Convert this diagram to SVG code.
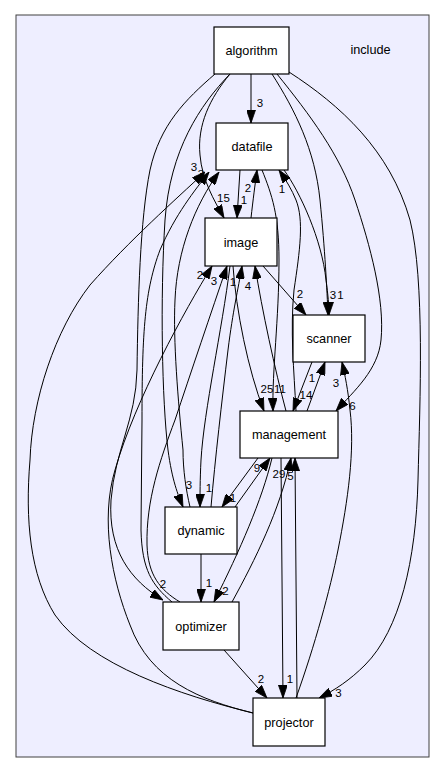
<svg xmlns="http://www.w3.org/2000/svg" width="445" height="773" viewBox="0 0 445 773">
<style>
.cl{fill:#eeeeff;stroke:#404040;stroke-width:1}
.nd rect{fill:#ffffff;stroke:#000000;stroke-width:1.2}
.nt{font-family:"Liberation Sans",Arial,Helvetica,sans-serif;font-size:12.7px;fill:#000;text-anchor:middle}
.e path{fill:none;stroke:#000;stroke-width:1;marker-end:url(#ah)}
.lb{font-family:"Liberation Sans",Arial,Helvetica,sans-serif;font-size:11.5px;fill:#000;text-anchor:middle}
</style>
<defs>
<marker id="ah" viewBox="0 0 13 9" refX="13" refY="4.5" markerWidth="13" markerHeight="9" markerUnits="userSpaceOnUse" orient="auto">
<path d="M0,0 L13,4.5 L0,9 z" fill="#000" stroke="#000" stroke-width="0.8"/>
</marker>
</defs>
<rect width="445" height="773" fill="#ffffff"/>
<g id="cluster_include">
<rect class="cl" x="16" y="15" width="413" height="742"/>
<text class="nt" x="370.5" y="54">include</text>
</g>
<g id="connectors" class="e">
<path d="M251,74 L251,123"/>
<path d="M230,74 C210,98 197,125 200,155 C202,180 214,200 224,218"/>
<path d="M240,170 L237,218"/>
<path d="M251,218 C253,200 255,185 257,170"/>
<path d="M296,411 C294,370 290,330 294,290 C300,250 304,220 296,200 C292,190 286,180 279,170"/>
<path d="M284,170 C300,192 322,240 326,280 C328,295 329,305 329,315"/>
<path d="M272,74 C295,110 315,150 320,200 C325,250 327,290 328,315"/>
<path d="M277,74 C310,115 340,155 355,200 C370,245 385,300 381,340 C378,370 355,390 336,411"/>
<path d="M289,72 C340,105 390,150 410,220 C425,280 420,400 418,480 C416,560 400,630 365,665 C350,680 335,690 319,698"/>
<path d="M263,266 L306,315"/>
<path d="M233,266 C236,310 248,370 264,411"/>
<path d="M262,170 C272,195 279,215 279,260 C279,320 272,370 273,411"/>
<path d="M286,411 C275,370 262,310 255,266"/>
<path d="M312,362 L293,411"/>
<path d="M307,411 L325,362"/>
<path d="M296,698 C315,645 330,590 338,550 C348,500 355,450 350,410 C348,390 345,375 342,362"/>
<path d="M258,458 L222,507"/>
<path d="M235,507 L270,458"/>
<path d="M272,458 C262,500 240,550 214,602"/>
<path d="M232,602 C255,560 280,510 291,458"/>
<path d="M297,698 L295,458"/>
<path d="M281,458 L283,698"/>
<path d="M201,554 L201,602"/>
<path d="M224,650 L267,698"/>
<path d="M230,74 C200,105 170,150 165,220 C160,300 162,400 168,450 C172,480 178,495 183,507"/>
<path d="M230,266 C222,330 204,410 201,460 C200,480 200,495 200,507"/>
<path d="M211,507 C215,460 222,400 228,350 C233,310 238,290 242,266"/>
<path d="M215,74 C185,100 160,125 150,170 C140,220 138,300 137,370 C136,420 115,450 111,500 C108,550 130,580 163,600"/>
<path d="M172,602 C152,585 142,570 141,530 L142,420 C142,330 145,290 160,250 C175,215 195,190 209,172"/>
<path d="M253,713 C180,695 90,665 55,615 C30,575 25,520 30,460 C32,400 55,330 90,285 C130,240 175,200 205,172"/>
<path d="M190,507 C186,490 183,470 183,450 C178,400 173,340 175,300 C177,250 195,205 219,172"/>
<path d="M180,602 C160,590 148,575 147,545 C146,500 160,460 175,420 C190,375 212,310 227,266"/>
<path d="M253,713 C200,700 150,680 130,625 C112,580 100,520 115,470 C135,400 185,310 212,266"/>
</g>
<g id="edge_labels">
<text class="lb" x="260" y="107">3</text>
<text class="lb" x="223.5" y="202">15</text>
<text class="lb" x="244" y="204">1</text>
<text class="lb" x="248" y="192">2</text>
<text class="lb" x="282" y="193">1</text>
<text class="lb" x="194" y="171">3</text>
<text class="lb" x="201" y="178">3</text>
<text class="lb" x="300" y="298">2</text>
<text class="lb" x="333" y="299">3</text>
<text class="lb" x="340.5" y="299">1</text>
<text class="lb" x="200" y="279">2</text>
<text class="lb" x="214" y="285">3</text>
<text class="lb" x="233" y="286">1</text>
<text class="lb" x="248" y="290">4</text>
<text class="lb" x="267" y="393">25</text>
<text class="lb" x="280" y="393">11</text>
<text class="lb" x="306" y="399">14</text>
<text class="lb" x="312" y="382">1</text>
<text class="lb" x="336" y="387">3</text>
<text class="lb" x="352.5" y="410">6</text>
<text class="lb" x="257" y="472">9</text>
<text class="lb" x="279" y="478">29</text>
<text class="lb" x="290.5" y="480">5</text>
<text class="lb" x="189" y="489">3</text>
<text class="lb" x="209" y="492">1</text>
<text class="lb" x="233" y="502">1</text>
<text class="lb" x="209" y="587">1</text>
<text class="lb" x="225.5" y="595">2</text>
<text class="lb" x="163" y="588">2</text>
<text class="lb" x="261" y="683">2</text>
<text class="lb" x="290" y="683">1</text>
<text class="lb" x="338.5" y="697">3</text>
</g>
<g id="node_algorithm" class="nd"><rect x="214" y="27" width="75" height="47"/><text class="nt" x="251.5" y="54.5">algorithm</text></g>
<g id="node_datafile" class="nd"><rect x="216" y="123" width="72" height="47"/><text class="nt" x="252" y="151">datafile</text></g>
<g id="node_image" class="nd"><rect x="205" y="218" width="72" height="48"/><text class="nt" x="241" y="246.5">image</text></g>
<g id="node_scanner" class="nd"><rect x="293" y="315" width="72" height="47"/><text class="nt" x="329" y="343">scanner</text></g>
<g id="node_management" class="nd"><rect x="240" y="411" width="98" height="47"/><text class="nt" x="289" y="439">management</text></g>
<g id="node_dynamic" class="nd"><rect x="165" y="507" width="72" height="47"/><text class="nt" x="201" y="535">dynamic</text></g>
<g id="node_optimizer" class="nd"><rect x="163" y="602" width="76" height="48"/><text class="nt" x="201" y="630.5">optimizer</text></g>
<g id="node_projector" class="nd"><rect x="253" y="698" width="72" height="48"/><text class="nt" x="289" y="726.5">projector</text></g>
</svg>
